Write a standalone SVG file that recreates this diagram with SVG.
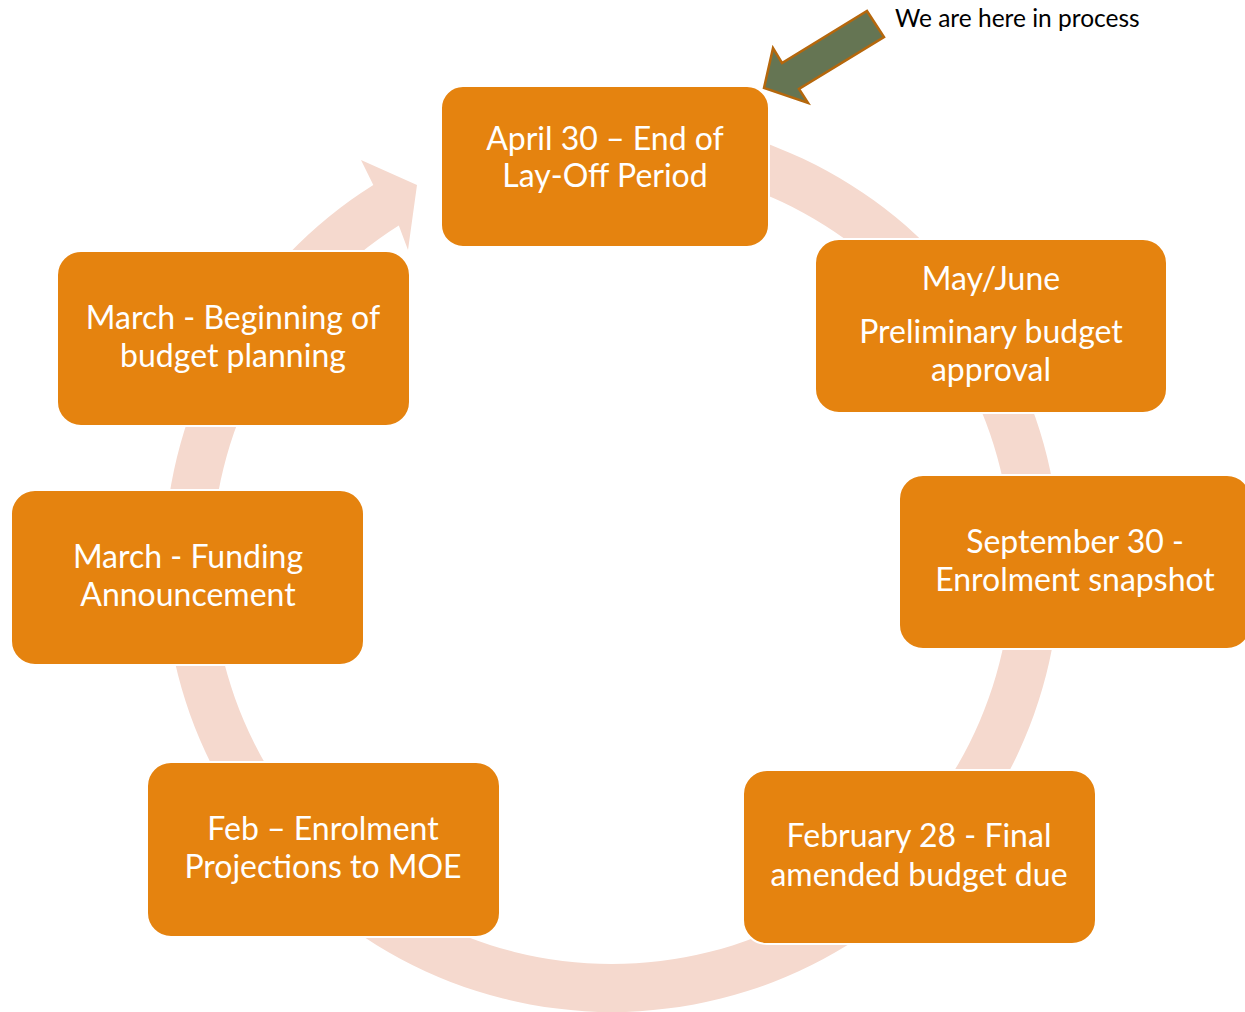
<svg xmlns="http://www.w3.org/2000/svg" width="1245" height="1012" viewBox="0 0 1245 1012">
<style>
.box{fill:#E5830F;stroke:#FFFFFF;stroke-width:2}
.t{font-family:Lato,"Open Sans",sans-serif;font-size:32px;fill:#FFFFFF;text-anchor:middle}
.note{font-family:Lato,"Open Sans",sans-serif;font-size:24.5px;fill:#000000}
</style>
<rect width="1245" height="1012" fill="#FFFFFF"/>
<g id="connectors">
<path d="M534.2,122.8 A448,448 0 1 1 373.3,184.9 L361,160 L417,185 L408,250 L398.8,225.5 A400,400 0 1 0 542.5,170.1 Z" fill="#F5D9CE"/>
</g>
<g id="node-april">
<rect class="box" x="441" y="86" width="328" height="161" rx="22"/>
<text class="t" x="605" y="150">April 30 – End of</text>
<text class="t" x="605" y="187">Lay-Off Period</text>
</g>
<g id="node-mayjune">
<rect class="box" x="815" y="239" width="352" height="174" rx="24"/>
<text class="t" x="991" y="290">May/June</text>
<text class="t" x="991" y="343">Preliminary budget</text>
<text class="t" x="991" y="381">approval</text>
</g>
<g id="node-sept">
<rect class="box" x="899" y="475" width="352" height="174" rx="24"/>
<text class="t" x="1075" y="553">September 30 -</text>
<text class="t" x="1075" y="591">Enrolment snapshot</text>
</g>
<g id="node-feb28">
<rect class="box" x="743" y="770" width="353" height="174" rx="24"/>
<text class="t" x="919" y="847">February 28 - Final</text>
<text class="t" x="919" y="886">amended budget due</text>
</g>
<g id="node-feb">
<rect class="box" x="147" y="762" width="353" height="175" rx="24"/>
<text class="t" x="323" y="840">Feb – Enrolment</text>
<text class="t" x="323" y="878">Projections to MOE</text>
</g>
<g id="node-march-funding">
<rect class="box" x="11" y="490" width="353" height="175" rx="24"/>
<text class="t" x="188" y="568">March - Funding</text>
<text class="t" x="188" y="606">Announcement</text>
</g>
<g id="node-march-planning">
<rect class="box" x="57" y="251" width="353" height="175" rx="24"/>
<text class="t" x="233" y="329">March - Beginning of</text>
<text class="t" x="233" y="367">budget planning</text>
</g>
<g id="pointer">
<polygon points="764,88 773,48 782,63 867,11 884,37 799,89 808,103" fill="#657553" stroke="#B5670C" stroke-width="2.5" stroke-linejoin="miter"/>
<text class="note" x="895" y="27">We are here in process</text>
</g>
</svg>
